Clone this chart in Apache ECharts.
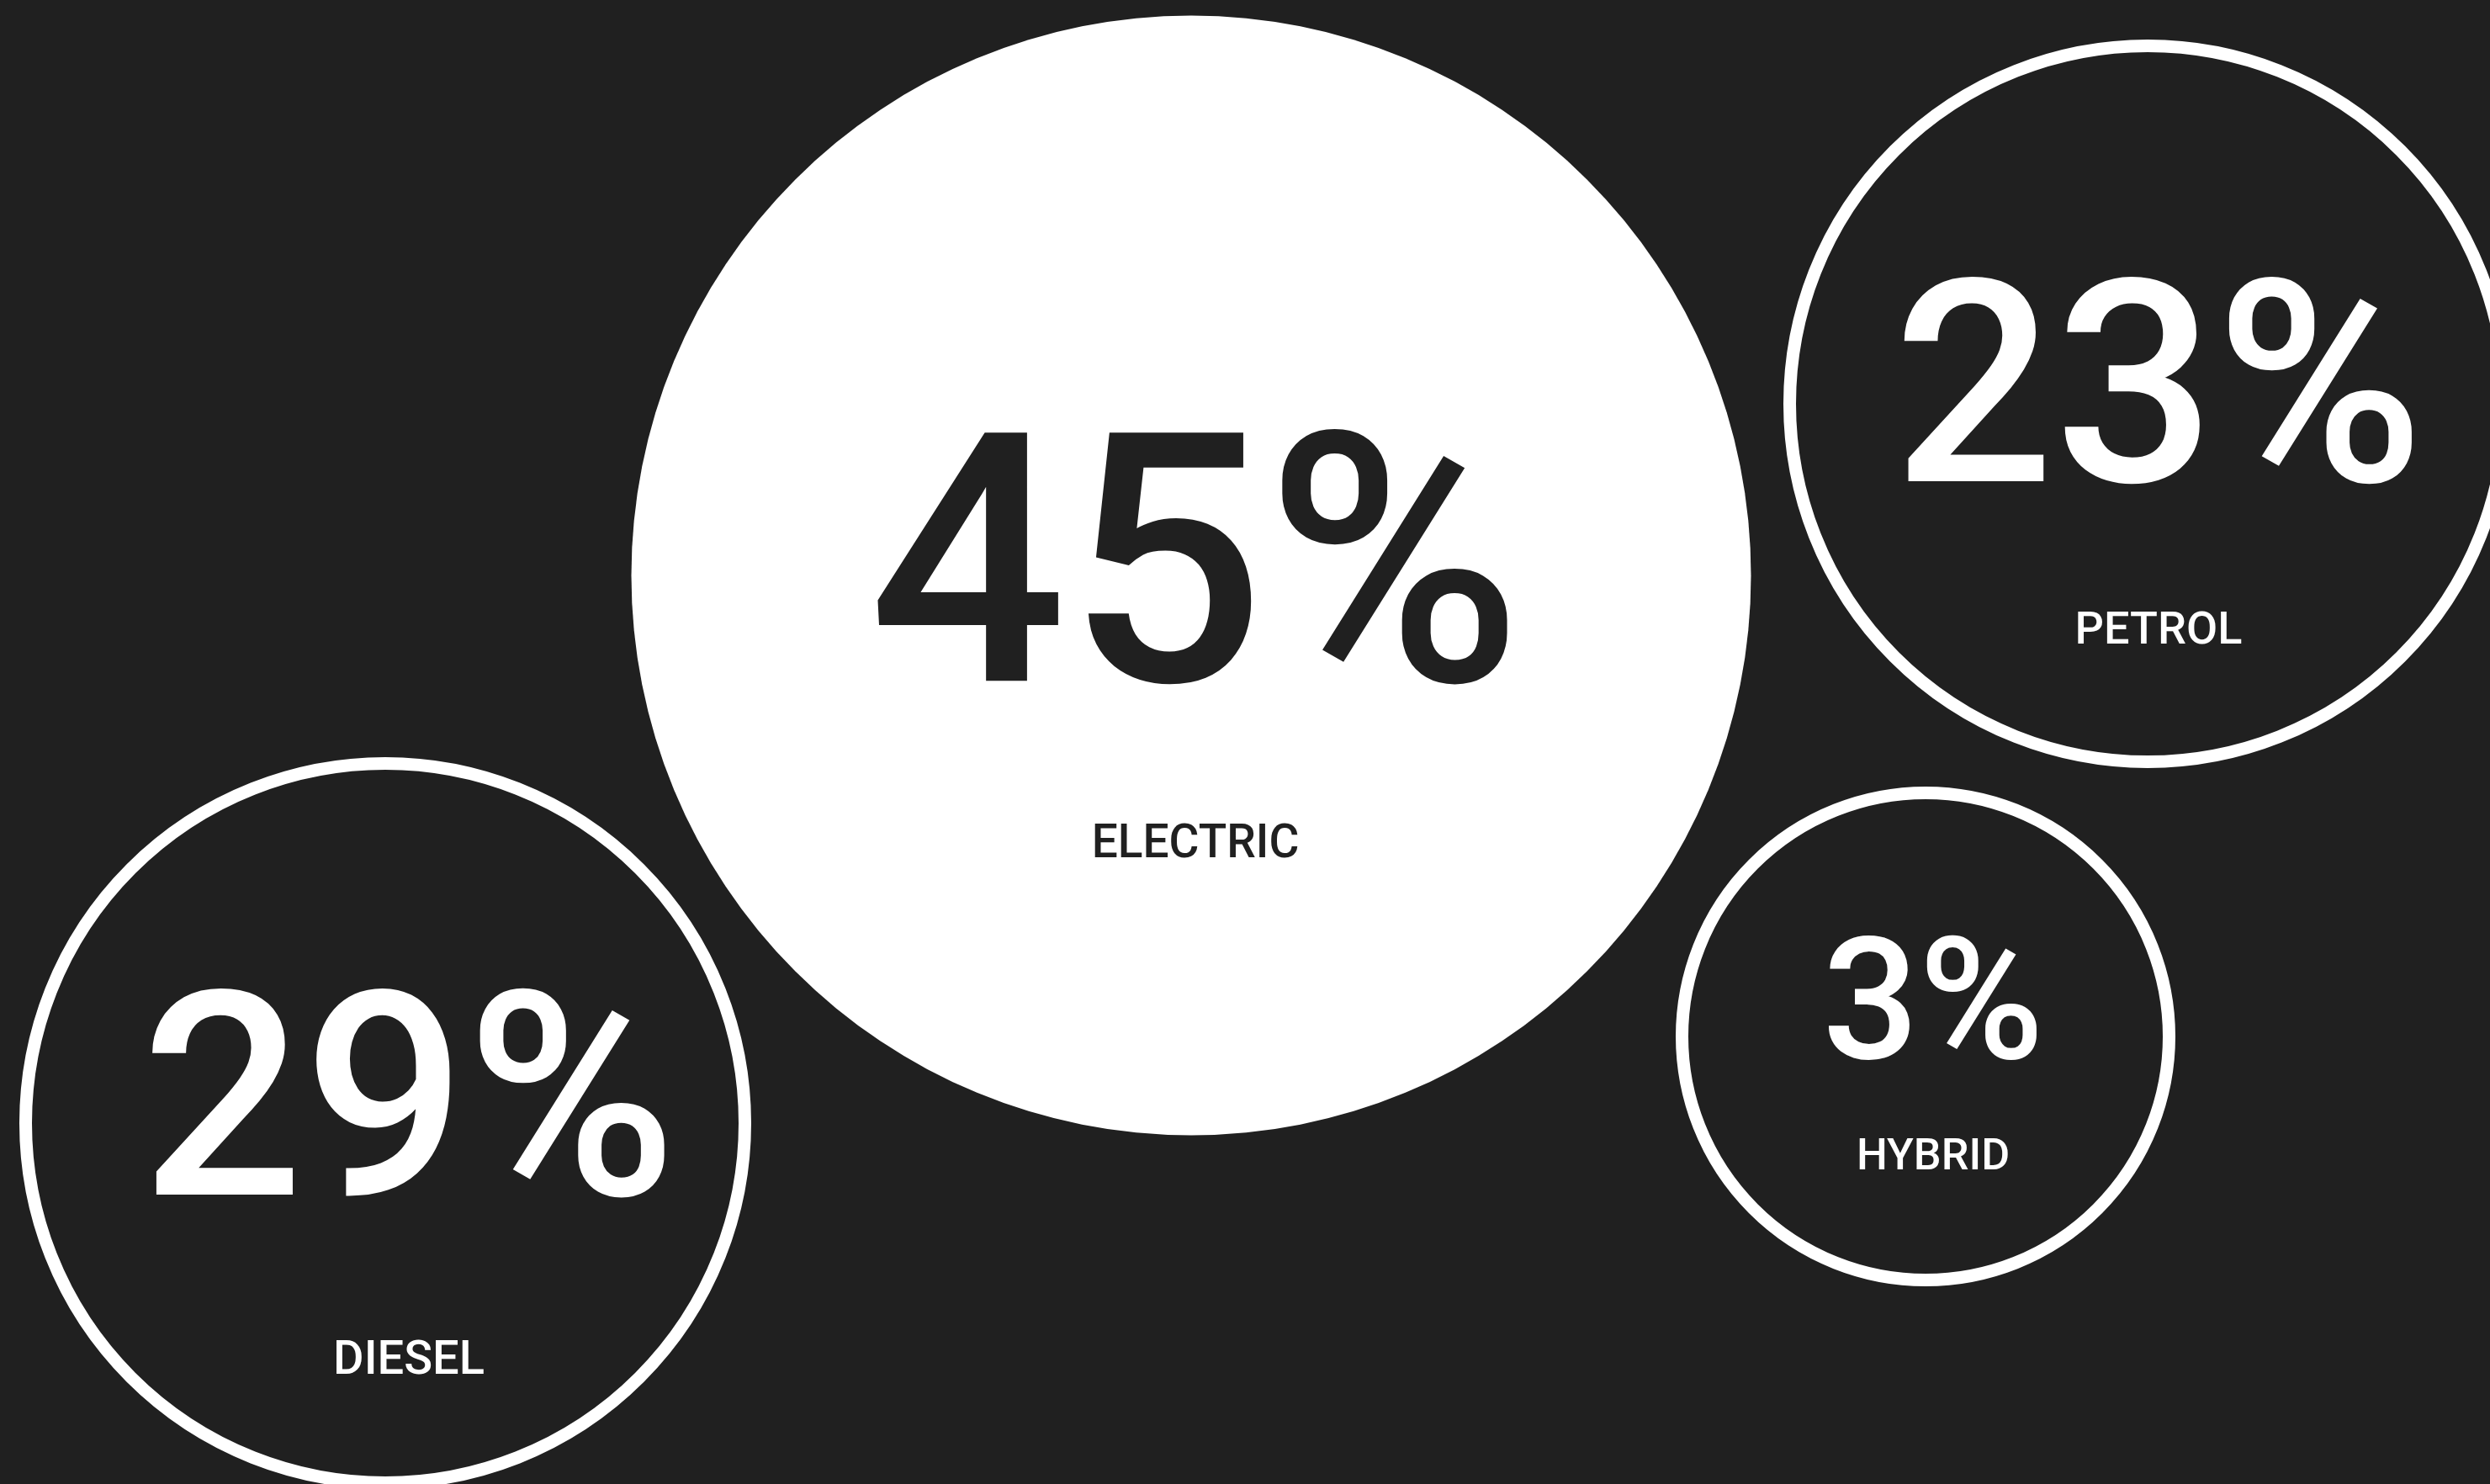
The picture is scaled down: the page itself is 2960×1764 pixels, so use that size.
<!DOCTYPE html>
<html>
<head>
<meta charset="utf-8">
<script src="https://cdn.jsdelivr.net/npm/echarts@6/dist/echarts.min.js"></script>
<style>
  html, body { margin: 0; padding: 0; background: #202020; }
  #chart { width: 2960px; height: 1764px; }
</style>
</head>
<body>
<div id="chart"></div>
<script>
// ---- data ----
var categories = ['ELECTRIC', 'PETROL', 'DIESEL', 'HYBRID'];
var shares = [45, 23, 29, 3];

// ---- bubble layout (packed-bubble positions in canvas units) ----
var bubbleX = [1416, 2553, 458, 2289];
var bubbleY = [684, 480, 1335, 1232];
var bubbleDiameter = [1331, 851, 855, 579];
var filled = [true, false, false, false];

// ---- text layout ----
var numberFont = [415, 337, 340, 202];
var nameFont = [55, 54, 56, 52];
var numberOffset = [-20, -26, -34, -45];
var nameOffset = [316, 266, 278, 140];
var textShiftX = [5, 13, 28, 9];

var BG = '#202020';
var FG = '#ffffff';
var FONT = 'Roboto, "Noto Sans", sans-serif';
var CAP_SHIFT = 0.1;

var chart = echarts.init(document.getElementById('chart'), null, { renderer: 'canvas' });

var data = categories.map(function (name, i) {
  var fv = numberFont[i], fn = nameFont[i];
  var a = numberOffset[i], b = nameOffset[i];
  var Ln = Math.round(fn * 1.2);
  var Lv = 2 * (b - a) + 2 * CAP_SHIFT * (fn - fv) - Ln;
  var dy = a + CAP_SHIFT * fv + Ln / 2;
  var txt = filled[i] ? BG : FG;
  return {
    name: name,
    value: [bubbleX[i], bubbleY[i], shares[i]],
    symbolSize: bubbleDiameter[i],
    itemStyle: filled[i]
      ? { color: FG, borderWidth: 0, opacity: 1 }
      : { color: BG, borderColor: FG, borderWidth: 15, opacity: 1 },
    label: {
      show: true,
      position: 'inside',
      offset: [textShiftX[i], dy],
      formatter: '{v|' + shares[i] + '%}\n{n|' + name + '}',
      rich: {
        v: { fontFamily: FONT, fontWeight: 500, fontSize: fv, lineHeight: Lv, color: txt, align: 'center' },
        n: { fontFamily: FONT, fontWeight: 500, fontSize: fn, lineHeight: Ln, color: txt, align: 'center' }
      }
    }
  };
});

chart.setOption({
  backgroundColor: BG,
  animation: false,
  grid: { left: 0, right: 0, top: 0, bottom: 0 },
  xAxis: { type: 'value', min: 0, max: 2960, show: false },
  yAxis: { type: 'value', min: 0, max: 1764, inverse: true, show: false },
  series: [{
    type: 'scatter',
    symbol: 'circle',
    clip: false,
    itemStyle: { opacity: 1 },
    data: data,
    emphasis: { disabled: true }
  }]
});
</script>
</body>
</html>
